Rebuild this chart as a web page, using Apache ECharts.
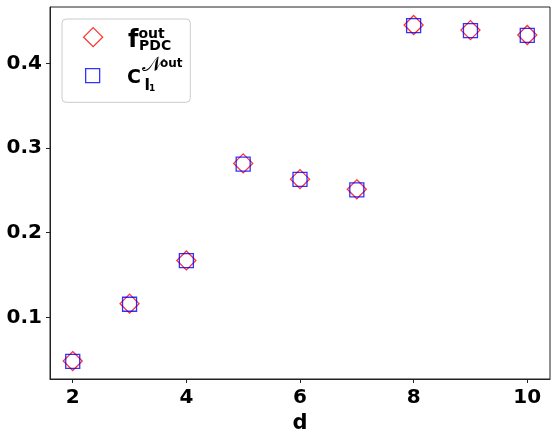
<!DOCTYPE html>
<html>
<head>
<meta charset="utf-8">
<script src="https://cdn.jsdelivr.net/npm/echarts@6/dist/echarts.min.js"></script>
<style>html,body{margin:0;padding:0;background:#fff;}#c{width:558px;height:443px;}</style>
</head>
<body>
<div id="c"></div>
<script>
var dValues = [2, 3, 4, 5, 6, 7, 8, 9, 10];
var fPDC = [0.0484, 0.1162, 0.1672, 0.2818, 0.2632, 0.2512, 0.4452, 0.4392, 0.4334];
var cL1 = [0.0480, 0.1155, 0.1670, 0.2810, 0.2630, 0.2505, 0.4445, 0.4385, 0.4330];
var xTicks = [2, 4, 6, 8, 10];
var yTicks = [0.1, 0.2, 0.3, 0.4];
var xRange = [1.6, 10.4];
var yRange = [0.0272, 0.4665];

function pairs(xs, ys) { return xs.map(function (x, i) { return [x, ys[i]]; }); }

var FONT = 'DejaVu Sans';
function txt(s, x, y, font) {
  return { type: 'text', z: 100, style: { text: s, x: x, y: y, font: font, fill: '#000', align: 'left', verticalAlign: 'middle' } };
}
var chart = echarts.init(document.getElementById('c'), null, { renderer: 'canvas' });
chart.setOption({
  animation: false,
  backgroundColor: '#fff',
  grid: { left: 50, top: 7, right: 8, bottom: 64, show: true, borderColor: '#222', borderWidth: 1 },
  xAxis: {
    type: 'value', min: xRange[0], max: xRange[1],
    name: 'd', nameLocation: 'middle', nameGap: 33,
    nameTextStyle: { fontFamily: FONT, fontWeight: 'bold', fontSize: 21, color: '#000' },
    axisLine: { show: true, lineStyle: { color: '#222', width: 1 } },
    axisTick: { show: true, inside: false, length: 4, customValues: xTicks, lineStyle: { color: '#222' } },
    axisLabel: { customValues: xTicks, margin: 9, fontFamily: FONT, fontWeight: 'bold', fontSize: 20, color: '#000' },
    splitLine: { show: false }
  },
  yAxis: {
    type: 'value', min: yRange[0], max: yRange[1],
    axisLine: { show: true, lineStyle: { color: '#222', width: 1 } },
    axisTick: { show: true, inside: false, length: 4, customValues: yTicks, lineStyle: { color: '#222' } },
    axisLabel: { customValues: yTicks, margin: 8, fontFamily: FONT, fontWeight: 'bold', fontSize: 20, color: '#000',
      formatter: function (v) { return v.toFixed(1); } },
    splitLine: { show: false }
  },
  legend: [
    {
      left: 62, top: 19, orient: 'vertical',
      padding: [8, 87, 55, 21],
      itemWidth: 19, itemHeight: 19,
      backgroundColor: '#fff', borderColor: '#cccccc', borderWidth: 1, borderRadius: 4,
      formatter: function () { return ''; },
      textStyle: { fontSize: 1 },
      data: [
        { name: 'fPDC', icon: 'diamond', itemStyle: { color: 'transparent', borderColor: '#ff0000', borderWidth: 1.3 } }
      ]
    },
    {
      left: 85, top: 68, orient: 'vertical', z: 5,
      padding: 0,
      itemWidth: 14, itemHeight: 14,
      formatter: function () { return ''; },
      textStyle: { fontSize: 1 },
      data: [
        { name: 'Cl1', icon: 'rect', itemStyle: { color: 'transparent', borderColor: '#0000ff', borderWidth: 1.3 } }
      ]
    }
  ],
  graphic: [
    txt('f', 128, 40.7, 'bold 24px "DejaVu Sans"'),
    txt('out', 138.5, 34.2, 'bold 14px "DejaVu Sans"'),
    txt('PDC', 139, 45.9, 'bold 14px "DejaVu Sans"'),
    txt('C', 127, 78.5, 'bold 19px "DejaVu Sans"'),
    txt('\uD835\uDCA9', 142, 65.5, '21px "DejaVu Sans", "DejaVu Serif", serif'),
    txt('out', 160, 63.8, 'bold 12px "DejaVu Sans"'),
    txt('l', 144.5, 85.5, 'bold 16px "DejaVu Sans"'),
    txt('1', 149, 88.2, 'bold 9px "DejaVu Sans"')
  ],
  series: [
    {
      name: 'fPDC', type: 'scatter', symbol: 'diamond', symbolSize: 19,
      data: pairs(dValues, fPDC),
      itemStyle: { color: 'transparent', borderColor: '#ff0000', borderWidth: 1.3 },
      z: 2
    },
    {
      name: 'Cl1', type: 'scatter', symbol: 'rect', symbolSize: 14,
      data: pairs(dValues, cL1),
      itemStyle: { color: 'transparent', borderColor: '#0000ff', borderWidth: 1.3 },
      z: 3
    }
  ]
});
</script>
</body>
</html>
